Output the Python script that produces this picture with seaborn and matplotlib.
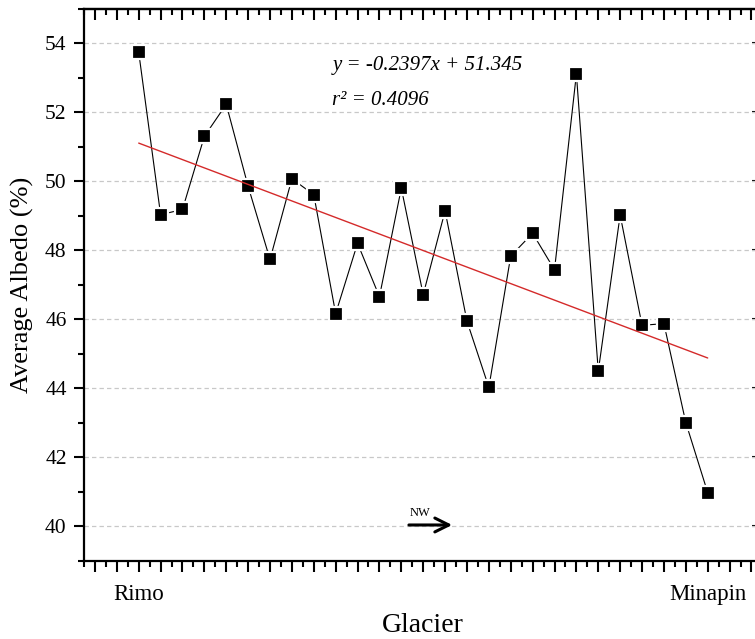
import numpy as np
import pandas as pd
import matplotlib
matplotlib.use("Agg")
import matplotlib.pyplot as plt
from matplotlib.ticker import MultipleLocator
import seaborn as sns

# ---- data ----
glacier_index = list(range(1, 28))
albedo = [53.74, 49.03, 49.18, 51.30, 52.23, 49.85, 47.73, 50.07, 49.61, 46.16,
          48.20, 46.65, 49.80, 46.71, 49.14, 45.94, 44.02, 47.83, 48.49, 47.43,
          53.11, 44.49, 49.02, 45.82, 45.87, 43.00, 40.97]
tick_names = {1: "Rimo", 27: "Minapin"}
fit_slope = -0.2397
fit_intercept = 51.345
r_squared = 0.4096

sns.set_style("white")
plt.rcParams['font.family'] = ['Liberation Serif', 'DejaVu Serif']
for k in ["text.color", "axes.labelcolor", "xtick.color", "ytick.color", "axes.edgecolor"]:
    plt.rcParams[k] = "black"

fig = plt.figure(figsize=(7.55, 6.39), dpi=100)
ax = fig.add_axes([84 / 755, 78.5 / 639, 678.4 / 755, 551.7 / 639])

df = pd.DataFrame({"x": glacier_index, "y": albedo})
fit_x = [glacier_index[0], glacier_index[-1]]
fit_df = pd.DataFrame({"x": fit_x, "y": [fit_slope * v + fit_intercept for v in fit_x]})

ax.set_xlim(-1.5, 29.5)
ax.set_ylim(39, 55)

# grid
ax.set_axisbelow(True)
ax.yaxis.grid(True, color="#c8c8c8", linestyle=(0, (3.5, 2.5)), linewidth=0.9)
ax.xaxis.grid(False)

sns.lineplot(data=df, x="x", y="y", ax=ax, color="black", linewidth=0.8,
             marker="s", markersize=10.5, markerfacecolor="black",
             markeredgecolor="white", markeredgewidth=1.6, zorder=3)
sns.lineplot(data=fit_df, x="x", y="y", ax=ax, color="#d42a2a", linewidth=1.0, zorder=4)

# ticks
ax.xaxis.set_major_locator(MultipleLocator(1))
ax.xaxis.set_minor_locator(MultipleLocator(0.5))
ax.yaxis.set_major_locator(MultipleLocator(2))
ax.yaxis.set_minor_locator(MultipleLocator(1))
xt = ax.get_xticks()
ax.set_xticks(xt)
ax.set_xticklabels([tick_names.get(int(round(v)), "") for v in xt])
ax.set_xlim(-1.5, 29.5)
ax.tick_params(axis="x", which="major", direction="out", length=8, width=1.5,
               labelsize=16.5, pad=9, bottom=True)
ax.tick_params(axis="x", which="minor", direction="out", length=4, width=1.5, bottom=True)
ax.tick_params(axis="y", which="major", direction="out", length=7.5, width=1.5,
               labelsize=15.5, pad=5, left=True)
ax.tick_params(axis="y", which="minor", direction="out", length=4, width=1.5, left=True)

for s in ax.spines.values():
    s.set_linewidth(1.6)
    s.set_color("black")
    s.set_visible(True)

# top ticks (inward)
top = ax.secondary_xaxis("top")
top.xaxis.set_major_locator(MultipleLocator(1))
top.xaxis.set_minor_locator(MultipleLocator(0.5))
top.tick_params(which="major", direction="in", length=8, width=1.5, labeltop=False)
top.tick_params(which="minor", direction="in", length=4, width=1.5)
top.spines["top"].set_linewidth(1.6)
# right ticks (inward, only majors reach into the picture)
right = ax.secondary_yaxis("right")
right.yaxis.set_major_locator(MultipleLocator(2))
right.tick_params(which="major", direction="in", length=7, width=1.5, labelright=False)
right.tick_params(which="minor", length=0)

ax.set_xlabel("Glacier", fontsize=20, labelpad=6)
ax.set_ylabel("Average Albedo (%)", fontsize=19, labelpad=8)

ax.text(9.85, 53.35, f"y = -{abs(fit_slope):.4f}x + {fit_intercept:.3f}",
        fontsize=15, style="italic", va="center", ha="left")
ax.text(9.85, 52.35, f"r\u00b2 = {r_squared:.4f}",
        fontsize=15, style="italic", va="center", ha="left")

ax.annotate("", xy=(15.45, 40.03), xytext=(13.22, 40.03),
            arrowprops=dict(arrowstyle="->,head_length=1.0,head_width=0.5",
                            color="black", linewidth=2.2))
ax.text(13.85, 40.38, "NW", fontsize=9, ha="center", va="center")

fig.savefig("out.png", dpi=100)
